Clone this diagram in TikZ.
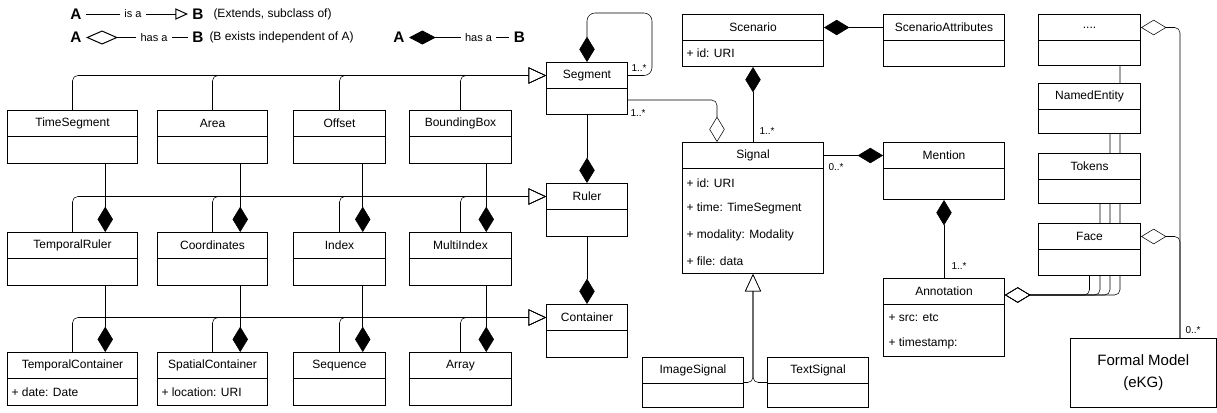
\documentclass[tikz,border=0pt]{standalone}
\usepackage{fontspec}
\setmainfont{Liberation Sans}
\usetikzlibrary{arrows.meta,calc}

\pgfdeclarelayer{background}
\pgfsetlayers{background,main}

\tikzset{every picture/.style={line width=0.75pt}}
\tikzset{
  umlbox/.style={draw, fill=white, inner sep=0pt},
  umlhead/.style={draw, fill=white, inner sep=0pt, minimum height=19.5pt},
  attr/.style={anchor=west, inner sep=0pt},
  mult/.style={inner sep=0pt, font=\fontsize{7.5}{9}\selectfont},
  key/.style={inner sep=3pt, font=\bfseries\fontsize{11.5}{13}\selectfont},
  keytext/.style={inner sep=3pt, font=\fontsize{8.25}{10}\selectfont},
  isa/.style={-{Triangle[open,length=13pt,width=12pt]}},
  has/.style={-{Diamond[length=19pt,width=11.5pt]}},
  agg/.style={-{Diamond[open,length=19pt,width=11.5pt]}},
  bus/.style={rounded corners=4pt},
}

% class box: name, left, top, width, height, title
\newcommand{\umlclass}[6]{%
  \node[umlbox, anchor=north west, minimum width={0.75pt*#4}, minimum height={0.75pt*#5}] (#1) at (#2,#3) {};
  \node[umlhead, anchor=north, minimum width={0.75pt*#4}] (#1-h) at (#1.north) {#6};
}

\begin{document}
\begin{tikzpicture}[x=0.75pt,y=0.75pt,yscale=-1,xscale=1,font=\fontsize{9}{11}\selectfont]
\useasboundingbox (0,0) rectangle (1217,412);

%Legend
\node[key] (A1) at (76,14) {A};
\node[keytext] (isa1) at (133,14) {is a};
\node[key] (B1) at (198,14) {B};
\node[anchor=west, inner sep=0pt] (ext) at (213,14) {(Extends, subclass of)};
\draw (A1.east) -- (isa1.west);
\draw[-{Triangle[open,length=9.5pt,width=8.5pt]}] (isa1.east) -- (B1.west);

\node[key] (A2) at (76,37.5) {A};
\node[keytext] (has2) at (154,37.5) {has a};
\node[key] (B2) at (198,37.5) {B};
\node[anchor=west, inner sep=0pt] (indep) at (209,37.5) {(B exists independent of A)};
\draw[-{Diamond[open,length=24pt,width=10.5pt]}] (has2.west) -- (A2.east);
\draw (has2.east) -- (B2.west);

\node[key] (A3) at (399,37.5) {A};
\node[keytext] (has3) at (478.5,37.5) {has a};
\node[key] (B3) at (519.5,37.5) {B};
\draw[-{Diamond[length=20pt,width=10.5pt]}] (has3.west) -- (A3.east);
\draw (has3.east) -- (B3.west);

%Shape: segments, rulers, containers
\umlclass{ts}{7}{110}{130}{53}{TimeSegment}
\umlclass{area}{157}{110}{110}{53}{Area}
\umlclass{off}{293}{110}{92}{53}{Offset}
\umlclass{bb}{409}{110}{102}{53}{BoundingBox}
\umlclass{tr}{7}{232}{130}{53}{TemporalRuler}
\umlclass{crd}{157}{232}{110}{53}{Coordinates}
\umlclass{idx}{293}{232}{92}{53}{Index}
\umlclass{midx}{409}{232}{102}{53}{MultiIndex}
\umlclass{tc}{7}{352}{130}{53}{TemporalContainer}
\umlclass{sc}{157}{352}{110}{53}{SpatialContainer}
\umlclass{seq}{293}{352}{92}{53}{Sequence}
\umlclass{arr}{409}{352}{102}{53}{Array}
\node[attr] (tc-a1) at (11,392) {+ date: Date};
\node[attr] (sc-a1) at (161,392) {+ location: URI};

\umlclass{seg}{546}{62}{81}{52}{Segment}
\umlclass{rul}{546}{183}{81}{53}{Ruler}
\umlclass{con}{546}{304}{81}{53}{Container}

%Shape: scenario, signals, annotations
\umlclass{scn}{682}{14}{141}{52}{Scenario}
\umlclass{sca}{883}{14}{121}{52}{ScenarioAttributes}
\node[attr] (scn-a1) at (686,53) {+ id: URI};
\umlclass{sig}{682}{142}{141}{131}{Signal}
\node[attr] (sig-a1) at (686,183) {+ id: URI};
\node[attr] (sig-a2) at (686,208.5) {+ time: TimeSegment};
\node[attr] (sig-a3) at (686,235) {+ modality: Modality};
\node[attr] (sig-a4) at (686,261) {+ file: data};
\umlclass{men}{883}{142}{121}{57}{Mention}
\umlclass{ann}{883}{278}{121}{78}{Annotation}
\node[attr] (ann-a1) at (888,318) {+ src: etc};
\node[attr] (ann-a2) at (888,343) {+ timestamp:};
\umlclass{img}{642}{357}{101}{50}{ImageSignal}
\umlclass{txt}{767}{357}{101}{50}{TextSignal}

%Shape: right column
\umlclass{dots}{1038}{14}{102}{51}{....}
\umlclass{ne}{1038}{83}{102}{50}{NamedEntity}
\umlclass{tok}{1038}{153}{102}{50}{Tokens}
\umlclass{fac}{1038}{223}{102}{52}{Face}
\node[umlbox, anchor=north west, minimum width={0.75pt*145.5}, minimum height={0.75pt*69}, align=center, font=\fontsize{11.25}{16.5}\selectfont] (fm) at (1070,338) {Formal Model\\(eKG)};

% Text Node
\node[mult] (m1) at (639,68) {1..*};
\node[mult] (m2) at (638,113) {1..*};
\node[mult] (m3) at (767,131) {1..*};
\node[mult] (m4) at (836,167) {0..*};
\node[mult] (m5) at (959,266) {1..*};
\node[mult] (m6) at (1193,330) {0..*};

\begin{pgfonlayer}{background}
%Straight Lines: is a
\foreach \c in {ts,area,off,bb} \draw[isa,bus] (\c.north) |- (seg-h.west);
\foreach \c in {tr,crd,idx,midx} \draw[isa,bus] (\c.north) |- (rul-h.west);
\foreach \c in {tc,sc,seq,arr} \draw[isa,bus] (\c.north) |- (con-h.west);
\draw[isa,bus] (img.east) -| (sig.south);
\draw[isa,bus] (txt.west) -| (sig.south);

%Straight Lines: has a
\foreach \a/\b in {ts/tr,area/crd,off/idx,bb/midx,tr/tc,crd/sc,idx/seq,midx/arr}
  \draw[has] ($(\a.south)!.5!(\a.south east)$) -- ($(\b.north)!.5!(\b.north east)$);
\draw[has] (seg.south) -- (rul.north);
\draw[has] (rul.south) -- (con.north);
\coordinate (loop) at (652,13);
\draw[has,rounded corners=6pt] (seg-h.east) -| (loop) -| (seg.north);
\draw[has] (sig.north) -- (scn.south);
\draw[has] (sca-h.west) -- (scn-h.east);
\draw[has] (sig-h.east) -- (men-h.west);
\draw[has] (ann.north) -- (men.south);

%Straight Lines: aggregation
\draw[agg,bus] (seg.east |- 0,100) -| (sig.north -| 717,0);
\draw[agg,bus] (dots.south -| 1120,0) |- (ann.east |- 0,295);
\draw[agg,bus] (ne.south -| 1110,0) |- (ann.east |- 0,295);
\draw[agg,bus] (tok.south -| 1100,0) |- (ann.east |- 0,295);
\draw[agg,bus] (fac.south) |- (ann.east |- 0,295);
\draw[agg,bus] (fm.north -| 1180,0) |- (dots-h.east);
\draw[agg,bus] (fm.north -| 1180,0) |- (fac-h.east);
\end{pgfonlayer}

\end{tikzpicture}
\end{document}
